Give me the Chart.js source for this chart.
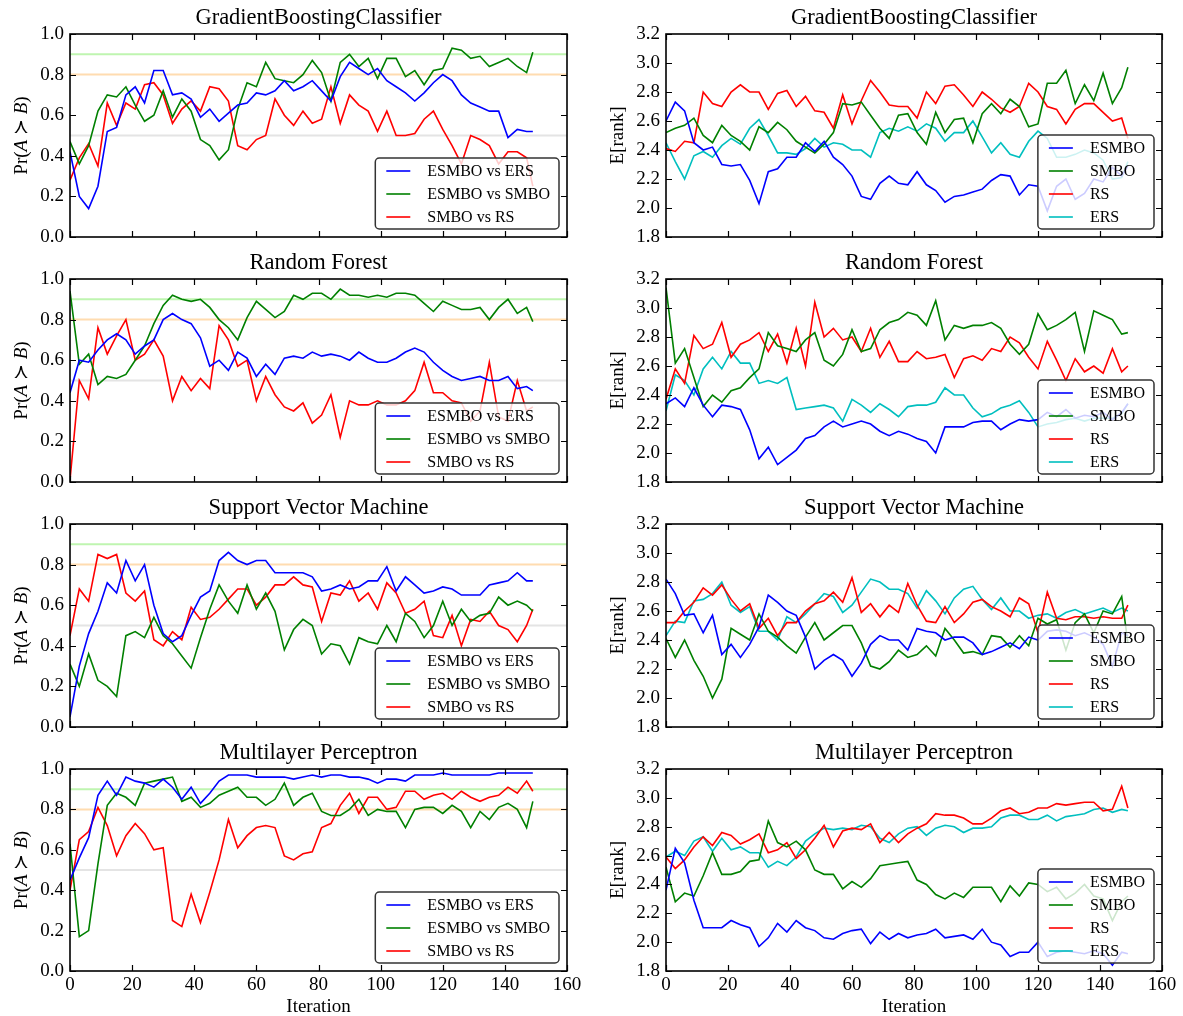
<!DOCTYPE html>
<html><head><meta charset="utf-8">
<script src="https://cdn.jsdelivr.net/npm/chart.js@4.4.1/dist/chart.umd.min.js"></script>
<style>
html,body{margin:0;padding:0;background:#fff;overflow:hidden;width:1183px;height:1016px}
canvas{position:absolute}
</style></head><body>
<script>
// ---------- data ----------
const iters = [0,3,6,9,12,15,18,21,24,27,30,33,36,39,42,45,48,51,54,57,60,63,66,69,72,75,78,81,84,87,90,93,96,99,102,105,108,111,114,117,120,123,126,129,132,135,138,141,144,147,149];
const titles = ['GradientBoostingClassifier','Random Forest','Support Vector Machine','Multilayer Perceptron'];
const xTicks = [0,20,40,60,80,100,120,140,160];
const leftYTicks = [0.0,0.2,0.4,0.6,0.8,1.0];
const rightYTicks = [1.8,2.0,2.2,2.4,2.6,2.8,3.0,3.2];
const leftLabels = ['ESMBO vs ERS','ESMBO vs SMBO','SMBO vs RS'];
const rightLabels = ['ESMBO','SMBO','RS','ERS'];
const refLines = [0.9,0.8,0.5];

// GradientBoostingClassifier
const gbcEsmboVsErs = [0.42,0.20,0.14,0.25,0.52,0.54,0.70,0.74,0.66,0.82,0.82,0.70,0.71,0.68,0.59,0.63,0.57,0.61,0.65,0.66,0.71,0.70,0.72,0.77,0.72,0.74,0.77,0.72,0.67,0.79,0.86,0.83,0.80,0.83,0.77,0.74,0.71,0.67,0.71,0.76,0.80,0.77,0.70,0.66,0.64,0.62,0.62,0.49,0.53,0.52,0.52];
const gbcEsmboVsSmbo = [0.47,0.36,0.45,0.62,0.70,0.69,0.74,0.65,0.57,0.60,0.72,0.59,0.68,0.62,0.48,0.45,0.38,0.43,0.63,0.76,0.74,0.86,0.78,0.77,0.76,0.80,0.87,0.81,0.67,0.86,0.90,0.84,0.88,0.78,0.88,0.88,0.79,0.82,0.75,0.82,0.83,0.93,0.92,0.88,0.89,0.84,0.86,0.88,0.84,0.81,0.91];
const gbcSmboVsRs = [0.28,0.39,0.46,0.35,0.66,0.55,0.66,0.63,0.75,0.76,0.70,0.56,0.63,0.67,0.62,0.74,0.73,0.67,0.45,0.43,0.48,0.50,0.68,0.60,0.55,0.62,0.56,0.58,0.74,0.56,0.70,0.65,0.62,0.52,0.62,0.50,0.50,0.51,0.58,0.62,0.53,0.45,0.36,0.50,0.48,0.45,0.36,0.42,0.42,0.39,0.25];
const gbcRankEsmbo = [2.60,2.73,2.67,2.45,2.40,2.42,2.30,2.29,2.30,2.19,2.03,2.25,2.27,2.35,2.35,2.45,2.39,2.46,2.35,2.30,2.22,2.08,2.06,2.17,2.22,2.17,2.16,2.25,2.16,2.12,2.04,2.08,2.09,2.11,2.13,2.19,2.23,2.22,2.09,2.16,2.15,1.98,2.15,2.20,2.06,2.10,2.20,2.18,2.28,2.22,2.29];
const gbcRankSmbo = [2.52,2.55,2.57,2.62,2.50,2.45,2.57,2.50,2.46,2.40,2.56,2.52,2.59,2.54,2.46,2.42,2.38,2.44,2.52,2.72,2.71,2.73,2.64,2.55,2.48,2.64,2.65,2.52,2.44,2.66,2.52,2.61,2.62,2.45,2.65,2.72,2.65,2.75,2.70,2.56,2.58,2.86,2.86,2.95,2.72,2.85,2.74,2.93,2.72,2.83,2.97];
const gbcRankRs = [2.41,2.39,2.46,2.45,2.80,2.72,2.70,2.80,2.85,2.80,2.80,2.68,2.79,2.81,2.70,2.77,2.67,2.66,2.55,2.78,2.58,2.74,2.88,2.80,2.71,2.70,2.70,2.62,2.80,2.72,2.84,2.85,2.78,2.70,2.80,2.75,2.69,2.66,2.70,2.86,2.80,2.70,2.68,2.58,2.68,2.72,2.72,2.66,2.60,2.62,2.48];
const gbcRankErs = [2.45,2.32,2.20,2.36,2.39,2.35,2.43,2.48,2.44,2.55,2.61,2.50,2.38,2.38,2.37,2.41,2.48,2.42,2.45,2.44,2.40,2.40,2.35,2.52,2.55,2.53,2.56,2.53,2.58,2.55,2.46,2.52,2.52,2.60,2.49,2.38,2.45,2.37,2.35,2.46,2.53,2.48,2.35,2.35,2.37,2.40,2.38,2.33,2.20,2.21,2.32];

// Random Forest
const rfEsmboVsErs = [0.44,0.60,0.59,0.65,0.70,0.73,0.70,0.63,0.67,0.70,0.80,0.83,0.80,0.78,0.71,0.57,0.60,0.55,0.64,0.61,0.52,0.58,0.53,0.61,0.62,0.61,0.64,0.62,0.63,0.62,0.60,0.64,0.61,0.59,0.59,0.61,0.64,0.66,0.64,0.59,0.55,0.52,0.50,0.51,0.52,0.50,0.50,0.52,0.46,0.47,0.45];
const rfEsmboVsSmbo = [0.94,0.58,0.63,0.48,0.52,0.51,0.53,0.60,0.67,0.78,0.87,0.92,0.90,0.89,0.90,0.86,0.80,0.76,0.70,0.81,0.89,0.85,0.81,0.84,0.92,0.90,0.93,0.93,0.90,0.95,0.92,0.92,0.91,0.92,0.91,0.93,0.93,0.92,0.88,0.84,0.89,0.87,0.85,0.85,0.86,0.80,0.86,0.90,0.83,0.86,0.79];
const rfSmboVsRs = [0.01,0.50,0.41,0.76,0.63,0.72,0.80,0.60,0.63,0.70,0.62,0.40,0.52,0.45,0.51,0.46,0.77,0.70,0.57,0.60,0.40,0.52,0.43,0.37,0.35,0.39,0.29,0.33,0.43,0.22,0.40,0.38,0.38,0.40,0.38,0.38,0.40,0.45,0.59,0.44,0.44,0.40,0.39,0.30,0.35,0.59,0.32,0.30,0.50,0.35,0.37];
const rfRankEsmbo = [2.34,2.38,2.32,2.45,2.33,2.25,2.33,2.32,2.30,2.16,1.96,2.04,1.92,1.97,2.02,2.10,2.12,2.18,2.22,2.18,2.20,2.22,2.20,2.15,2.12,2.15,2.13,2.10,2.08,2.00,2.18,2.18,2.18,2.21,2.22,2.22,2.16,2.20,2.23,2.22,2.23,2.28,2.25,2.30,2.24,2.26,2.25,2.28,2.23,2.28,2.34];
const rfRankSmbo = [3.14,2.62,2.72,2.52,2.32,2.40,2.35,2.43,2.45,2.52,2.58,2.83,2.74,2.72,2.70,2.78,2.83,2.64,2.60,2.68,2.85,2.70,2.72,2.85,2.90,2.92,2.97,2.95,2.88,3.05,2.78,2.88,2.86,2.88,2.88,2.90,2.86,2.75,2.68,2.75,2.96,2.85,2.88,2.92,2.97,2.70,2.98,2.95,2.92,2.82,2.83];
const rfRankRs = [2.37,2.58,2.48,2.81,2.72,2.75,2.90,2.66,2.75,2.78,2.83,2.70,2.82,2.62,2.86,2.60,3.04,2.80,2.86,2.78,2.80,2.70,2.86,2.66,2.77,2.63,2.63,2.70,2.65,2.66,2.68,2.52,2.65,2.67,2.64,2.72,2.70,2.80,2.76,2.66,2.58,2.77,2.64,2.50,2.65,2.56,2.60,2.55,2.72,2.56,2.60];
const rfRankErs = [2.29,2.54,2.50,2.40,2.58,2.66,2.58,2.70,2.62,2.62,2.48,2.50,2.48,2.52,2.30,2.31,2.32,2.33,2.31,2.22,2.37,2.33,2.28,2.34,2.30,2.25,2.32,2.33,2.33,2.35,2.45,2.40,2.40,2.31,2.25,2.27,2.31,2.33,2.36,2.28,2.18,2.20,2.21,2.23,2.24,2.22,2.24,2.24,2.24,2.27,2.34];

// Support Vector Machine
const svmEsmboVsErs = [0.05,0.30,0.46,0.57,0.71,0.66,0.82,0.72,0.80,0.60,0.46,0.42,0.45,0.55,0.64,0.67,0.82,0.86,0.82,0.80,0.82,0.82,0.76,0.76,0.76,0.76,0.74,0.67,0.68,0.70,0.68,0.69,0.72,0.72,0.79,0.67,0.74,0.70,0.66,0.67,0.69,0.68,0.65,0.65,0.65,0.70,0.71,0.72,0.76,0.72,0.72];
const svmEsmboVsSmbo = [0.31,0.20,0.36,0.23,0.20,0.15,0.45,0.47,0.44,0.54,0.45,0.41,0.35,0.29,0.44,0.58,0.70,0.62,0.56,0.70,0.58,0.66,0.57,0.38,0.48,0.53,0.50,0.36,0.41,0.40,0.31,0.44,0.42,0.41,0.50,0.42,0.56,0.52,0.44,0.50,0.62,0.50,0.58,0.52,0.55,0.56,0.64,0.60,0.62,0.60,0.57];
const svmSmboVsRs = [0.45,0.68,0.62,0.85,0.83,0.85,0.66,0.62,0.67,0.43,0.40,0.47,0.43,0.59,0.53,0.54,0.58,0.63,0.68,0.68,0.60,0.64,0.70,0.70,0.74,0.70,0.69,0.52,0.66,0.65,0.72,0.62,0.66,0.58,0.71,0.66,0.56,0.58,0.62,0.45,0.44,0.55,0.40,0.53,0.52,0.57,0.50,0.48,0.42,0.50,0.58];
const svmRankEsmbo = [2.82,2.72,2.57,2.58,2.45,2.57,2.30,2.37,2.28,2.37,2.49,2.71,2.66,2.60,2.57,2.42,2.20,2.26,2.30,2.26,2.15,2.24,2.37,2.43,2.40,2.40,2.33,2.48,2.46,2.45,2.40,2.42,2.42,2.38,2.30,2.32,2.35,2.38,2.34,2.42,2.40,2.46,2.47,2.46,2.43,2.45,2.42,2.37,2.22,2.45,2.43];
const svmRankSmbo = [2.41,2.28,2.40,2.26,2.15,2.00,2.13,2.48,2.44,2.40,2.58,2.46,2.42,2.36,2.31,2.42,2.52,2.40,2.45,2.50,2.50,2.38,2.22,2.20,2.25,2.33,2.28,2.30,2.36,2.29,2.48,2.40,2.31,2.32,2.30,2.43,2.42,2.35,2.43,2.36,2.55,2.51,2.54,2.33,2.52,2.58,2.45,2.60,2.58,2.70,2.38];
const svmRankRs = [2.52,2.52,2.60,2.66,2.76,2.71,2.78,2.68,2.60,2.65,2.48,2.55,2.43,2.52,2.52,2.60,2.65,2.67,2.73,2.66,2.83,2.59,2.65,2.56,2.64,2.59,2.79,2.64,2.53,2.52,2.63,2.52,2.58,2.66,2.68,2.63,2.60,2.56,2.69,2.65,2.45,2.73,2.55,2.54,2.56,2.56,2.55,2.56,2.55,2.55,2.64];
const svmRankErs = [2.43,2.53,2.52,2.67,2.68,2.72,2.80,2.64,2.59,2.63,2.46,2.46,2.40,2.56,2.52,2.58,2.65,2.72,2.70,2.59,2.64,2.73,2.82,2.80,2.75,2.75,2.72,2.62,2.74,2.67,2.58,2.69,2.75,2.77,2.68,2.61,2.69,2.60,2.60,2.55,2.57,2.58,2.55,2.59,2.61,2.58,2.60,2.62,2.59,2.62,2.60];

// Multilayer Perceptron
const mlpEsmboVsErs = [0.45,0.56,0.66,0.87,0.94,0.87,0.96,0.94,0.93,0.91,0.95,0.91,0.85,0.91,0.83,0.88,0.94,0.97,0.97,0.97,0.96,0.96,0.96,0.96,0.95,0.96,0.97,0.96,0.97,0.97,0.96,0.96,0.95,0.93,0.95,0.95,0.94,0.97,0.97,0.97,0.98,0.97,0.97,0.97,0.97,0.97,0.98,0.98,0.98,0.98,0.98];
const mlpEsmboVsSmbo = [0.63,0.17,0.20,0.53,0.82,0.88,0.86,0.82,0.93,0.94,0.95,0.96,0.84,0.86,0.81,0.83,0.87,0.89,0.91,0.86,0.86,0.82,0.85,0.93,0.82,0.86,0.88,0.79,0.77,0.77,0.80,0.85,0.77,0.80,0.79,0.79,0.71,0.80,0.81,0.81,0.78,0.82,0.79,0.71,0.79,0.75,0.81,0.83,0.80,0.71,0.84];
const mlpSmboVsRs = [0.40,0.65,0.69,0.81,0.72,0.57,0.67,0.73,0.68,0.60,0.61,0.25,0.22,0.38,0.24,0.39,0.55,0.75,0.61,0.67,0.71,0.72,0.71,0.57,0.55,0.58,0.59,0.71,0.73,0.82,0.88,0.78,0.86,0.86,0.80,0.81,0.89,0.89,0.85,0.87,0.88,0.85,0.89,0.86,0.84,0.86,0.87,0.91,0.88,0.94,0.89];
const mlpRankEsmbo = [2.36,2.65,2.55,2.29,2.10,2.10,2.10,2.15,2.12,2.10,1.97,2.03,2.13,2.07,2.15,2.10,2.08,2.03,2.02,2.06,2.08,2.09,1.99,2.07,2.02,2.06,2.03,2.05,2.06,2.09,2.03,2.04,2.05,2.02,2.09,2.00,1.98,1.90,1.93,1.93,2.00,1.90,1.93,1.94,1.93,1.92,1.94,1.92,1.84,1.93,1.92];
const mlpRankSmbo = [2.52,2.28,2.34,2.32,2.46,2.62,2.47,2.47,2.49,2.56,2.57,2.84,2.69,2.66,2.70,2.64,2.50,2.47,2.47,2.37,2.42,2.38,2.44,2.53,2.54,2.55,2.56,2.43,2.40,2.33,2.30,2.34,2.31,2.38,2.38,2.38,2.28,2.39,2.32,2.41,2.40,2.35,2.38,2.30,2.34,2.40,2.32,2.30,2.15,2.28,2.32];
const mlpRankRs = [2.59,2.51,2.57,2.66,2.73,2.67,2.76,2.74,2.68,2.71,2.75,2.62,2.64,2.69,2.58,2.64,2.72,2.81,2.66,2.77,2.79,2.78,2.82,2.69,2.76,2.69,2.75,2.79,2.82,2.89,2.88,2.88,2.86,2.82,2.82,2.86,2.91,2.93,2.89,2.90,2.93,2.93,2.96,2.95,2.96,2.97,2.97,2.91,2.92,3.08,2.93];
const mlpRankErs = [2.59,2.63,2.60,2.70,2.73,2.63,2.72,2.64,2.66,2.62,2.62,2.52,2.56,2.53,2.59,2.70,2.75,2.79,2.78,2.79,2.78,2.81,2.80,2.72,2.69,2.75,2.79,2.80,2.74,2.79,2.81,2.80,2.76,2.79,2.79,2.80,2.86,2.88,2.88,2.85,2.85,2.88,2.84,2.87,2.88,2.89,2.92,2.93,2.90,2.92,2.91];

// ---------- styling ----------
const SERIF = '"Liberation Serif","Times New Roman",serif';
const leftColors = ['#0000ff','#008000','#ff0000'];
const rightColors = ['#0000ff','#008000','#ff0000','#00bfbf'];
const refColors = ['#bff5b0','#ffdcb0','#e4e4e4'];

const rows = [
  {left:[gbcEsmboVsErs,gbcEsmboVsSmbo,gbcSmboVsRs], right:[gbcRankEsmbo,gbcRankSmbo,gbcRankRs,gbcRankErs]},
  {left:[rfEsmboVsErs,rfEsmboVsSmbo,rfSmboVsRs], right:[rfRankEsmbo,rfRankSmbo,rfRankRs,rfRankErs]},
  {left:[svmEsmboVsErs,svmEsmboVsSmbo,svmSmboVsRs], right:[svmRankEsmbo,svmRankSmbo,svmRankRs,svmRankErs]},
  {left:[mlpEsmboVsErs,mlpEsmboVsSmbo,mlpSmboVsRs], right:[mlpRankEsmbo,mlpRankSmbo,mlpRankRs,mlpRankErs]}
];
const plotTops = [34,279,524,769];
const plotRights = [567,1162];
const colLeft = [0,596];

function series(vals){ return iters.map((x,i)=>({x:x,y:vals[i]})); }

const decor = {
  id:'decor',
  beforeDatasetsDraw(chart){
    const o = chart.options.plugins.decor; const ctx = chart.ctx; const a = chart.chartArea; const ys = chart.scales.y;
    if (o.refs){
      ctx.save(); ctx.beginPath(); ctx.rect(a.left,a.top,a.right-a.left,a.bottom-a.top); ctx.clip();
      o.refs.forEach((v,i)=>{ const py = ys.getPixelForValue(v); ctx.strokeStyle = refColors[i]; ctx.lineWidth = 2;
        ctx.beginPath(); ctx.moveTo(a.left,py); ctx.lineTo(a.right,py); ctx.stroke(); });
      ctx.restore();
    }
  },
  afterDatasetsDraw(chart){
    const o = chart.options.plugins.decor; const ctx = chart.ctx; const a = chart.chartArea;
    const xs = chart.scales.x, ys = chart.scales.y;
    ctx.save();
    // legend
    ctx.font = '16px ' + SERIF;
    const ds = chart.data.datasets;
    let maxW = 0; ds.forEach(d=>{ maxW = Math.max(maxW, ctx.measureText(d.label).width); });
    const lw = 52 + maxW + 9, lh = 23*ds.length + 2;
    const lx = a.right - 8 - lw, ly = a.bottom - 8 - lh;
    ctx.beginPath(); ctx.roundRect(lx, ly, lw, lh, 4);
    ctx.fillStyle = 'rgba(255,255,255,0.8)'; ctx.fill();
    ctx.strokeStyle = '#333'; ctx.lineWidth = 1.5; ctx.stroke();
    ds.forEach((d,i)=>{
      const cy = ly + 13 + 23*i;
      ctx.strokeStyle = d.borderColor; ctx.lineWidth = 1.6;
      ctx.beginPath(); ctx.moveTo(lx+11, cy); ctx.lineTo(lx+35, cy); ctx.stroke();
      ctx.fillStyle = '#000'; ctx.textBaseline = 'middle'; ctx.textAlign = 'left';
      ctx.fillText(d.label, lx+52, cy+1);
    });
    // frame
    ctx.strokeStyle = '#000'; ctx.lineWidth = 1.6;
    ctx.strokeRect(a.left, a.top, a.right-a.left, a.bottom-a.top);
    // inward ticks
    ctx.lineWidth = 1.2;
    o.yt.forEach(v=>{ const py = Math.round(ys.getPixelForValue(v))+0.5;
      ctx.beginPath(); ctx.moveTo(a.left,py); ctx.lineTo(a.left+6,py); ctx.moveTo(a.right,py); ctx.lineTo(a.right-6,py); ctx.stroke(); });
    xTicks.forEach(v=>{ const px = Math.round(xs.getPixelForValue(v))+0.5;
      ctx.beginPath(); ctx.moveTo(px,a.bottom); ctx.lineTo(px,a.bottom-6); ctx.moveTo(px,a.top); ctx.lineTo(px,a.top+6); ctx.stroke(); });
    // title
    ctx.fillStyle = '#000'; ctx.textAlign = 'center'; ctx.textBaseline = 'alphabetic';
    ctx.font = '22.5px ' + SERIF;
    ctx.fillText(o.title, (a.left+a.right)/2, a.top - 10);
    // x axis title
    if (o.xTitle){ ctx.font = '19px ' + SERIF; ctx.fillText(o.xTitle, (a.left+a.right)/2, a.bottom + 41); }
    // y axis title (mixed italic)
    ctx.translate(22, (a.top+a.bottom)/2); ctx.rotate(-Math.PI/2);
    let tot = 0;
    o.yTitle.forEach(p=>{ ctx.font = (p[1]?'italic ':'') + '19px ' + SERIF; tot += ctx.measureText(p[0]).width; });
    let x0 = -tot/2; ctx.textAlign = 'left'; ctx.textBaseline = 'middle';
    o.yTitle.forEach(p=>{ ctx.font = (p[1]?'italic ':'') + '19px ' + SERIF; ctx.fillText(p[0], x0, 0); x0 += ctx.measureText(p[0]).width; });
    ctx.restore();
  }
};

const yTitleLeft = [['Pr(',0],['A',1],[' \u227B ',0],['B',1],[')',0]];
const yTitleRight = [['E[rank]',0]];

function build(row, side){
  const bottom = row === 3;
  const xH = bottom ? 45 : 24;
  const plotH = bottom ? 202 : 203;
  const W = 600, H = 34 + plotH + xH;
  const cv = document.createElement('canvas');
  cv.width = W; cv.height = H;
  cv.style.left = colLeft[side] + 'px'; cv.style.top = (plotTops[row]-34) + 'px';
  cv.style.width = W + 'px'; cv.style.height = H + 'px';
  document.body.appendChild(cv);
  const vals = side === 0 ? rows[row].left : rows[row].right;
  const labels = side === 0 ? leftLabels : rightLabels;
  const colors = side === 0 ? leftColors : rightColors;
  const yt = side === 0 ? leftYTicks : rightYTicks;
  new Chart(cv, {
    type:'line',
    data:{ datasets: vals.map((v,i)=>({label:labels[i], data:series(v), borderColor:colors[i], backgroundColor:colors[i], borderWidth:1.6, pointRadius:0, tension:0, fill:false})) },
    options:{
      responsive:false, animation:false, devicePixelRatio:1,
      layout:{padding:{top:34, right: colLeft[side] + W - plotRights[side], left:0, bottom:0}},
      plugins:{ legend:{display:false}, tooltip:{enabled:false}, title:{display:false},
        decor:{ title:titles[row], refs: side===0 ? refLines : null, yt: yt, xTitle: bottom ? 'Iteration' : null, yTitle: side===0 ? yTitleLeft : yTitleRight } },
      scales:{
        x:{ type:'linear', min:0, max:160, grid:{display:false, drawTicks:false}, border:{display:false},
            ticks:{ display:bottom, stepSize:20, autoSkip:false, maxRotation:0, color:'#000', padding:3, font:{family:SERIF, size:19} },
            afterFit:(s)=>{ s.height = xH; } },
        y:{ type:'linear', min: yt[0], max: yt[yt.length-1], grid:{display:false, drawTicks:false}, border:{display:false},
            ticks:{ stepSize:0.2, color:'#000', padding:6, font:{family:SERIF, size:19}, callback:(v)=>Number(v).toFixed(1) },
            afterFit:(s)=>{ s.width = 70; } }
      }
    },
    plugins:[decor]
  });
}
for (let r=0;r<4;r++){ build(r,0); build(r,1); }
</script>
</body></html>
